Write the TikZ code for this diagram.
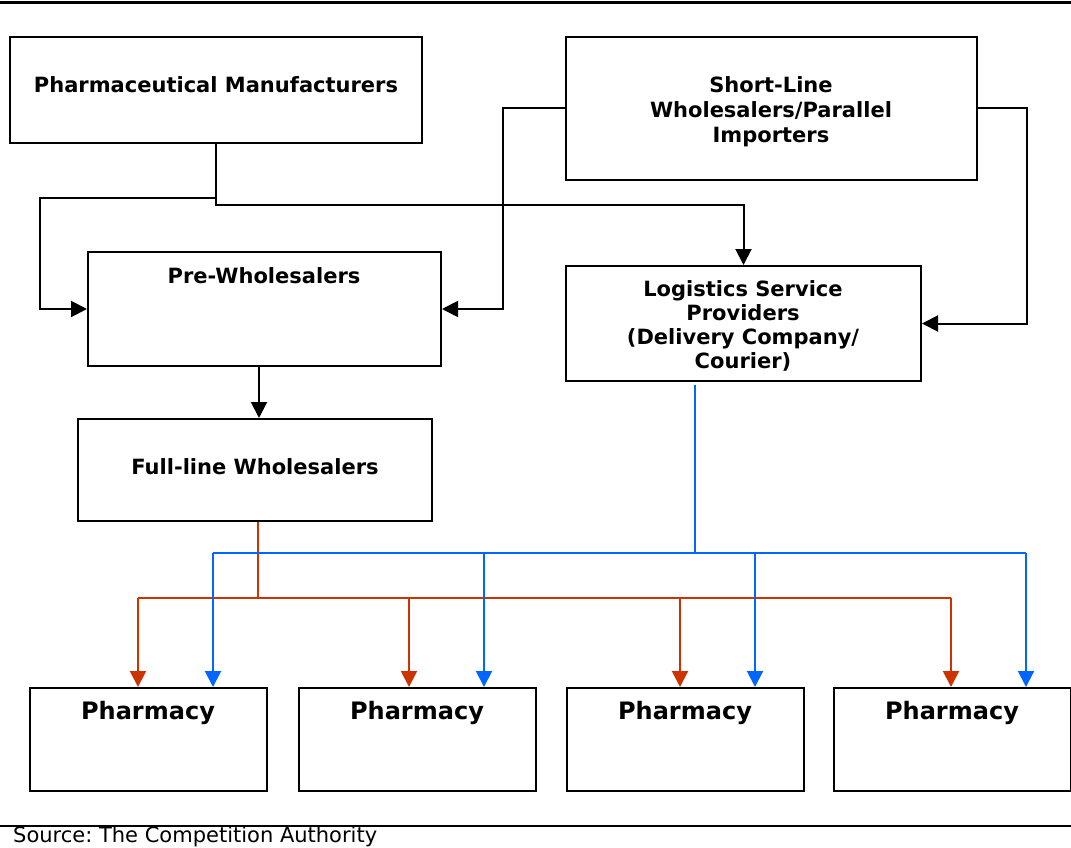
\documentclass[tikz,border=0pt]{standalone}
\usepackage{fontspec}
\setmainfont{DejaVu Sans}
\frenchspacing
\usetikzlibrary{arrows.meta}
\definecolor{supplyred}{HTML}{CC3300}
\definecolor{supplyblue}{HTML}{0066FF}
\tikzset{
  box/.style={draw, line width=2pt, inner sep=0pt},
  lbl/.style={font=\fontsize{21}{24}\selectfont\bfseries, align=center, inner sep=0pt},
  phlbl/.style={font=\fontsize{24}{28}\selectfont\bfseries, inner sep=0pt},
  arr/.style={line width=2pt, -{Triangle[width=16pt,length=16pt]}},
  bus/.style={line width=2pt},
}

\begin{document}
\begin{tikzpicture}[x=1pt,y=-1pt]
\useasboundingbox (0,0) rectangle (1071,848);

% top and bottom rules
\draw[line width=3pt] (0,3) -- (1071,3);
\draw[line width=2.5pt] (0,826) -- (1071,826);

% upper boxes
\node[box, minimum width=412pt, minimum height=106pt] (pm) at (216,90) {};
\node[lbl] (pmtext) at (216,85) {Pharmaceutical Manufacturers};

\node[box, minimum width=411pt, minimum height=143pt] (sl) at (771.5,108.5) {};
\node[lbl, font=\fontsize{21}{25}\selectfont\bfseries] (sltext) at (771,112) {Short-Line\\Wholesalers/Parallel\\Importers};

\node[box, minimum width=353pt, minimum height=114pt] (prew) at (264.5,309) {};
\node[lbl] (prewtext) at (264,276) {Pre-Wholesalers};

\node[box, minimum width=355pt, minimum height=115pt] (lsp) at (743.5,323.5) {};
\begin{scope}
  \clip (567,267) rectangle (920,373);
  \node[lbl] (lsptext) at (743,326) {Logistics Service\\Providers\\(Delivery Company/\\Courier)};
\end{scope}

\node[box, minimum width=354pt, minimum height=102pt] (fl) at (255,470) {};
\node[lbl] (fltext) at (255,467) {Full-line Wholesalers};

% pharmacies
\foreach \x [count=\p] in {148,417,685,952} {
  \node[box, minimum width=237pt, minimum height=103pt] (ph\p) at (\x,739.5) {};
  \node[phlbl] (phtext\p) at (\x,713) {Pharmacy};
}

% black connectors
\coordinate (pmjoin) at (216,205);
\coordinate (pmbranch) at (216,198);
\draw[arr] (pm.south) -- (pmjoin) -| (lsp.north);
\draw[arr] (pmbranch) -- ++(-176,0) |- (prew.west);
\draw[arr] (sl.west) -- ++(-62,0) |- (prew.east);
\draw[arr] (sl.east) -- ++(49,0) |- (lsp.east);
\draw[arr] ([xshift=-5.5pt]prew.south) -- ([xshift=-5.5pt]prew.south |- fl.north);

% full-line wholesalers to pharmacies
\coordinate (redjoin) at (258,598);
\draw[bus, supplyred] (fl.south -| redjoin) -- (redjoin)
  (138,598) -- (951,598);
\foreach \x [count=\p] in {138,409,680,951}
  \draw[arr, supplyred] (\x,598) -- (\x,598 |- ph\p.north);

% logistics providers to pharmacies
\coordinate (bluetop) at (695,385);
\coordinate (bluejoin) at (695,553);
\draw[bus, supplyblue] (bluetop) -- (bluejoin)
  (213,553) -- (1026,553);
\foreach \x [count=\p] in {213,484,755,1026}
  \draw[arr, supplyblue] (\x,553) -- (\x,553 |- ph\p.north);

% source
\node[anchor=base west, font=\fontsize{21}{24}\selectfont, inner sep=0pt] (source) at (13,842) {Source: The Competition Authority};

\end{tikzpicture}
\end{document}
